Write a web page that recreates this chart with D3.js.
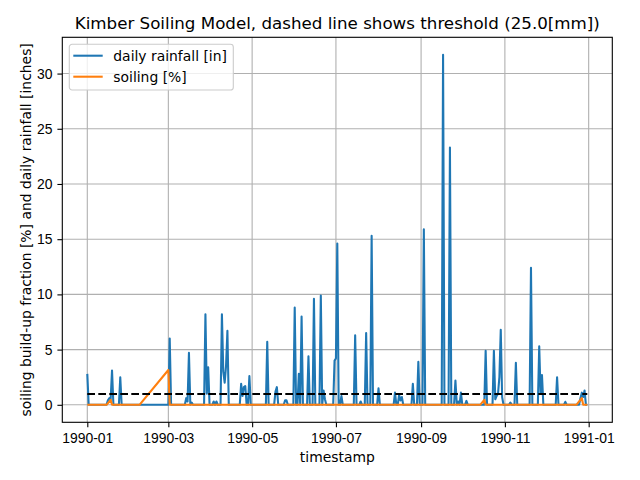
<!DOCTYPE html>
<html>
<head>
<meta charset="utf-8">
<script src="https://cdn.jsdelivr.net/npm/d3@7"></script>
<style>
  body { margin: 0; background: white; }
  svg { font-family: "DejaVu Sans", sans-serif; display: block; }
  .grid line { stroke: #b0b0b0; stroke-width: 1.1px; }
  .tick text { font-size: 13.9px; fill: black; }
  .tick line { stroke: black; stroke-width: 1.1px; }
</style>
</head>
<body>
<div id="wrapper"></div>
<script>
// day of year (0 = 1990-01-01) and daily rainfall; other days are dry
const rainDays = [0, 15, 16, 17, 18, 24, 60, 72, 73, 74, 76, 86, 87, 88, 92, 94,
  98, 99, 100, 101, 102, 112, 113, 114, 115, 118, 131, 137, 138, 144, 145,
  151, 154, 156, 161, 165, 170, 172, 173, 180, 181, 182, 185, 195, 199, 203, 207,
  212, 224, 227, 228, 229, 237, 241, 245, 259, 264, 268, 270, 272, 276,
  290, 296, 297, 298, 299, 300, 301, 302, 308, 312, 323, 329, 330, 331, 342, 348,
  359, 360, 361, 362]
const rainValues = [2.8, 0.4, 0.6, 0.5, 3.1, 2.5, 6.0, 0.6, 0.3, 4.7, 0.2, 8.2, 1.0, 3.4, 0.3, 0.3,
  8.2, 3.0, 2.0, 3.5, 6.7, 1.9, 0.8, 1.6, 1.7, 2.6, 5.7, 1.2, 1.6, 0.4, 0.4,
  8.8, 2.8, 8.0, 4.4, 9.6, 9.9, 1.3, 0.5, 4.0, 4.2, 14.6, 0.8, 6.3, 0.3, 6.5, 15.3,
  1.5, 1.1, 0.9, 0.4, 0.7, 1.9, 3.9, 15.9, 31.7, 23.3, 2.2, 0.3, 1.1, 0.35,
  4.9, 4.9, 0.5, 0.8, 1.0, 2.5, 6.8, 0.7, 0.2, 3.8, 12.4, 5.3, 1.0, 2.7, 2.5, 0.27,
  0.6, 1.1, 0.7, 1.3]

// soiling [%] at the corners of the orange line
const soilingDays = [0, 14, 17, 18, 38, 59, 60, 286, 289, 290, 356, 360, 361, 364]
const soilingValues = [0, 0, 0.45, 0, 0, 3.15, 0, 0, 0.45, 0, 0, 0.6, 0, 0]

const thresholdInches = 25.0 / 25.4
const yTicks = [0, 5, 10, 15, 20, 25, 30]
const titleText = "Kimber Soiling Model, dashed line shows threshold (25.0[mm])"

function drawChart() {

  // 1. Access data
  const start = new Date(1990, 0, 1)
  const dayToDate = i => d3.timeDay.offset(start, i)
  const days = d3.timeDay.range(start, new Date(1991, 0, 1))
  const rainLookup = new Map(rainDays.map((d, i) => [d, rainValues[i]]))
  const rainfall = days.map((d, i) => ({ date: d, value: rainLookup.get(i) || 0 }))
  const soiling = soilingDays.map((d, i) => ({ date: dayToDate(d), value: soilingValues[i] }))

  // 2. Create chart dimensions
  let dimensions = {
    width: 640,
    height: 480,
    margin: { top: 37.3, right: 27.7, bottom: 57.7, left: 62.3 },
  }
  dimensions.boundedWidth = dimensions.width - dimensions.margin.left - dimensions.margin.right
  dimensions.boundedHeight = dimensions.height - dimensions.margin.top - dimensions.margin.bottom

  // 3. Draw canvas
  const wrapper = d3.select("#wrapper")
    .append("svg")
    .attr("width", dimensions.width)
    .attr("height", dimensions.height)

  const bounds = wrapper.append("g")
    .attr("transform", `translate(${dimensions.margin.left},${dimensions.margin.top})`)

  // 4. Create scales (matplotlib style 5% padding)
  const first = days[0], last = days[days.length - 1]
  const padMs = (last - first) * 0.05
  const xScale = d3.scaleTime()
    .domain([new Date(+first - padMs), new Date(+last + padMs)])
    .range([0, dimensions.boundedWidth])

  const yMax = d3.max(rainValues)
  const yPad = yMax * 0.05
  const yScale = d3.scaleLinear()
    .domain([-yPad, yMax + yPad])
    .range([dimensions.boundedHeight, 0])

  // grid
  const xTicks = d3.timeMonth.range(new Date(1990, 0, 1), new Date(1991, 1, 1), 2)
  bounds.append("g").attr("class", "grid")
    .selectAll("line").data(xTicks).join("line")
    .attr("x1", d => xScale(d)).attr("x2", d => xScale(d))
    .attr("y1", 0).attr("y2", dimensions.boundedHeight)
  bounds.append("g").attr("class", "grid")
    .selectAll("line").data(yTicks).join("line")
    .attr("y1", d => yScale(d)).attr("y2", d => yScale(d))
    .attr("x1", 0).attr("x2", dimensions.boundedWidth)

  // 5. Draw data
  const lineGenerator = d3.line()
    .x(d => xScale(d.date))
    .y(d => yScale(d.value))

  bounds.append("path")
    .attr("d", lineGenerator(rainfall))
    .attr("fill", "none")
    .attr("stroke", "#1f77b4")
    .attr("stroke-width", 2.08)
    .attr("stroke-linejoin", "round")

  bounds.append("path")
    .attr("d", lineGenerator(soiling))
    .attr("fill", "none")
    .attr("stroke", "#ff7f0e")
    .attr("stroke-width", 2.08)
    .attr("stroke-linejoin", "round")

  bounds.append("line")
    .attr("x1", xScale(first))
    .attr("x2", xScale(last))
    .attr("y1", yScale(thresholdInches))
    .attr("y2", yScale(thresholdInches))
    .attr("stroke", "black")
    .attr("stroke-width", 2.08)
    .attr("stroke-dasharray", "7.7,3.3")

  // 6. Draw peripherals
  const xAxis = bounds.append("g")
    .attr("transform", `translate(0,${dimensions.boundedHeight})`)
    .call(d3.axisBottom(xScale)
      .tickValues(xTicks)
      .tickFormat(d3.timeFormat("%Y-%m"))
      .tickSize(4.9)
      .tickPadding(4.9))
  xAxis.select(".domain").remove()
  xAxis.selectAll(".tick text").attr("dy", "0.75em")

  const yAxis = bounds.append("g")
    .call(d3.axisLeft(yScale)
      .tickValues(yTicks)
      .tickSize(4.9)
      .tickPadding(4.9))
  yAxis.select(".domain").remove()

  bounds.append("rect")
    .attr("width", dimensions.boundedWidth)
    .attr("height", dimensions.boundedHeight)
    .attr("fill", "none")
    .attr("stroke", "black")
    .attr("stroke-width", 1.1)

  wrapper.append("text")
    .attr("x", dimensions.margin.left + dimensions.boundedWidth / 2)
    .attr("y", 28.5)
    .attr("text-anchor", "middle")
    .style("font-size", "16.7px")
    .text(titleText)

  wrapper.append("text")
    .attr("x", dimensions.margin.left + dimensions.boundedWidth / 2)
    .attr("y", 462)
    .attr("text-anchor", "middle")
    .style("font-size", "13.9px")
    .text("timestamp")

  wrapper.append("text")
    .attr("transform", `translate(31,${dimensions.margin.top + dimensions.boundedHeight / 2}) rotate(-90)`)
    .attr("text-anchor", "middle")
    .style("font-size", "13.9px")
    .text("soiling build-up fraction [%] and daily rainfall [inches]")

  // legend
  const legend = bounds.append("g")
    .attr("transform", "translate(7,7)")
  legend.append("rect")
    .attr("width", 164)
    .attr("height", 45.7)
    .attr("rx", 2.8)
    .attr("fill", "white")
    .attr("fill-opacity", 0.8)
    .attr("stroke", "#cccccc")
    .attr("stroke-width", 1.1)
  const legendItems = [
    { label: "daily rainfall [in]", color: "#1f77b4" },
    { label: "soiling [%]", color: "#ff7f0e" },
  ]
  const item = legend.selectAll(".item").data(legendItems).join("g")
    .attr("transform", (d, i) => `translate(0,${11.4 + i * 21})`)
  item.append("line")
    .attr("x1", 4).attr("x2", 33.4)
    .attr("stroke", d => d.color)
    .attr("stroke-width", 2.08)
  item.append("text")
    .attr("x", 44)
    .attr("y", 4.9)
    .style("font-size", "13.9px")
    .text(d => d.label)
}
drawChart()
</script>
</body>
</html>
